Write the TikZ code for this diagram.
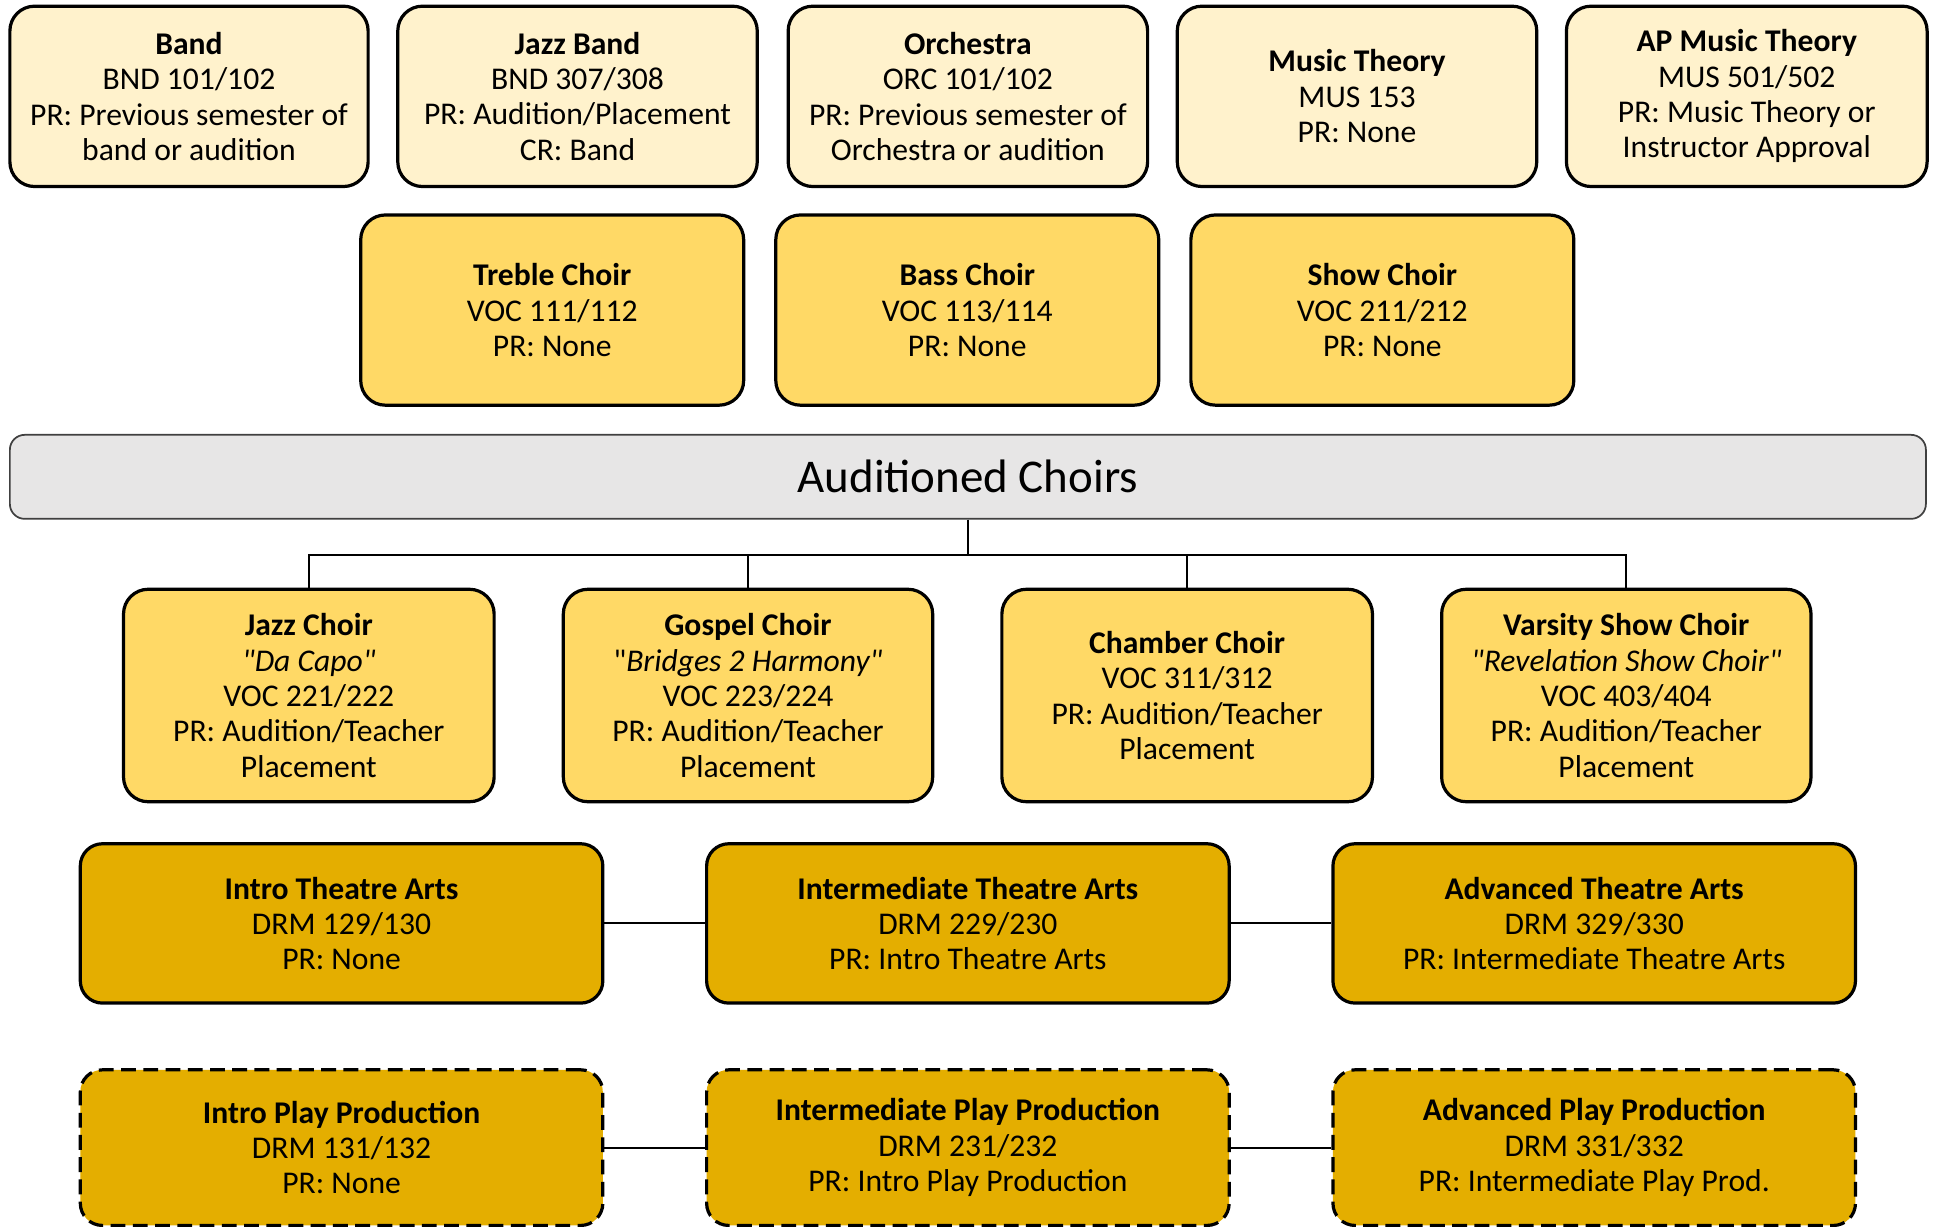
\documentclass[tikz,border=0pt]{standalone}
\usepackage{fontspec}
\setmainfont{Carlito}[Ligatures=TeXOff]
\begin{document}
\begin{tikzpicture}[x=1pt,y=-1pt,
  box/.style={draw=black, line width=2.6pt, rounded corners=20pt, inner sep=0pt, align=center,
    font=\fontsize{25.6}{28.6}\selectfont},
  light/.style={box, fill=lightY},
  mid/.style={box, fill=midY},
  dark/.style={box, fill=darkY, rounded corners=18pt},
  dashbox/.style={dark, dash pattern=on 12pt off 6pt},
  conn/.style={draw=black, line width=1.6pt},
]
\definecolor{lightY}{HTML}{FFF2CC}
\definecolor{midY}{HTML}{FFD966}
\definecolor{darkY}{HTML}{E4AE00}
\definecolor{grayB}{HTML}{E7E6E6}
\useasboundingbox (0,0) rectangle (1568,993);
\fill[white] (0,0) rectangle (1568,993);

% Row 1
\node[light, minimum width=290pt, minimum height=146pt] (band) at (153,78) {\textbf{Band}\\BND 101/102\\PR: Previous semester of\\band or audition};
\node[light, minimum width=291pt, minimum height=146pt] (jband) at (467.5,78) {\textbf{Jazz Band}\\BND 307/308\\PR: Audition/Placement\\CR: Band};
\node[light, minimum width=291pt, minimum height=146pt] (orch) at (783.5,78) {\textbf{Orchestra}\\ORC 101/102\\PR: Previous semester of\\Orchestra or audition};
\node[light, minimum width=291pt, minimum height=146pt] (mth) at (1098.5,78) {\textbf{Music Theory}\\MUS 153\\PR: None};
\node[light, minimum width=292pt, minimum height=146pt] (apmth) at (1414,78) {\textbf{AP Music Theory}\\MUS 501/502\\PR: Music Theory or\\Instructor Approval};

% Row 2
\node[mid, minimum width=310pt, minimum height=154pt] (treble) at (447,251) {\textbf{Treble Choir}\\VOC 111/112\\PR: None};
\node[mid, minimum width=310pt, minimum height=154pt] (bass) at (783,251) {\textbf{Bass Choir}\\VOC 113/114\\PR: None};
\node[mid, minimum width=310pt, minimum height=154pt] (show) at (1119,251) {\textbf{Show Choir}\\VOC 211/212\\PR: None};

% Auditioned bar
\node[draw=black!75, line width=1.4pt, fill=grayB, rounded corners=12pt, inner sep=0pt,
  minimum width=1551pt, minimum height=68pt, font=\fontsize{38}{44}\selectfont] (aud) at (783.5,386) {Auditioned Choirs};

% Row 3
\node[mid, minimum width=300pt, minimum height=172pt] (jazzc) at (250,563) {\textbf{Jazz Choir}\\\textit{"Da Capo"}\\VOC 221/222\\PR: Audition/Teacher\\Placement};
\node[mid, minimum width=299pt, minimum height=172pt] (gospel) at (605.5,563) {\textbf{Gospel Choir}\\"\textit{Bridges 2 Harmony"}\\VOC 223/224\\PR: Audition/Teacher\\Placement};
\node[mid, minimum width=300pt, minimum height=172pt] (chamber) at (961,563) {\textbf{Chamber Choir}\\VOC 311/312\\PR: Audition/Teacher\\Placement};
\node[mid, minimum width=299pt, minimum height=172pt] (varsity) at (1316.5,563) {\textbf{Varsity Show Choir}\\\textit{"Revelation Show Choir"}\\VOC 403/404\\PR: Audition/Teacher\\Placement};

\coordinate (hub) at (783.5,449);
\draw[conn] (aud.south) -- (hub);
\draw[conn] (hub) -| (jazzc.north);
\draw[conn] (hub) -| (gospel.north);
\draw[conn] (hub) -| (chamber.north);
\draw[conn] (hub) -| (varsity.north);

% Row 4
\node[dark, minimum width=423pt, minimum height=129pt] (ita) at (276.5,747.5) {\textbf{Intro Theatre Arts}\\DRM 129/130\\PR: None};
\node[dark, minimum width=423pt, minimum height=129pt] (mta) at (783.5,747.5) {\textbf{Intermediate Theatre Arts}\\DRM 229/230\\PR: Intro Theatre Arts};
\node[dark, minimum width=423pt, minimum height=129pt] (ata) at (1290.5,747.5) {\textbf{Advanced Theatre Arts}\\DRM 329/330\\PR: Intermediate Theatre Arts};
\draw[conn] (ita.east) -- (mta.west);
\draw[conn] (mta.east) -- (ata.west);

% Row 5
\node[dashbox, minimum width=423pt, minimum height=126pt] (ipp) at (276.5,929) {\textbf{Intro Play Production}\\DRM 131/132\\PR: None};
\node[dashbox, minimum width=423pt, minimum height=126pt] (mpp) at (783.5,929) {\textbf{Intermediate Play Production}\\DRM 231/232\\PR: Intro Play Production};
\node[dashbox, minimum width=423pt, minimum height=126pt] (app) at (1290.5,929) {\textbf{Advanced Play Production}\\DRM 331/332\\PR: Intermediate Play Prod.};
\draw[conn] (ipp.east) -- (mpp.west);
\draw[conn] (mpp.east) -- (app.west);
\end{tikzpicture}
\end{document}
